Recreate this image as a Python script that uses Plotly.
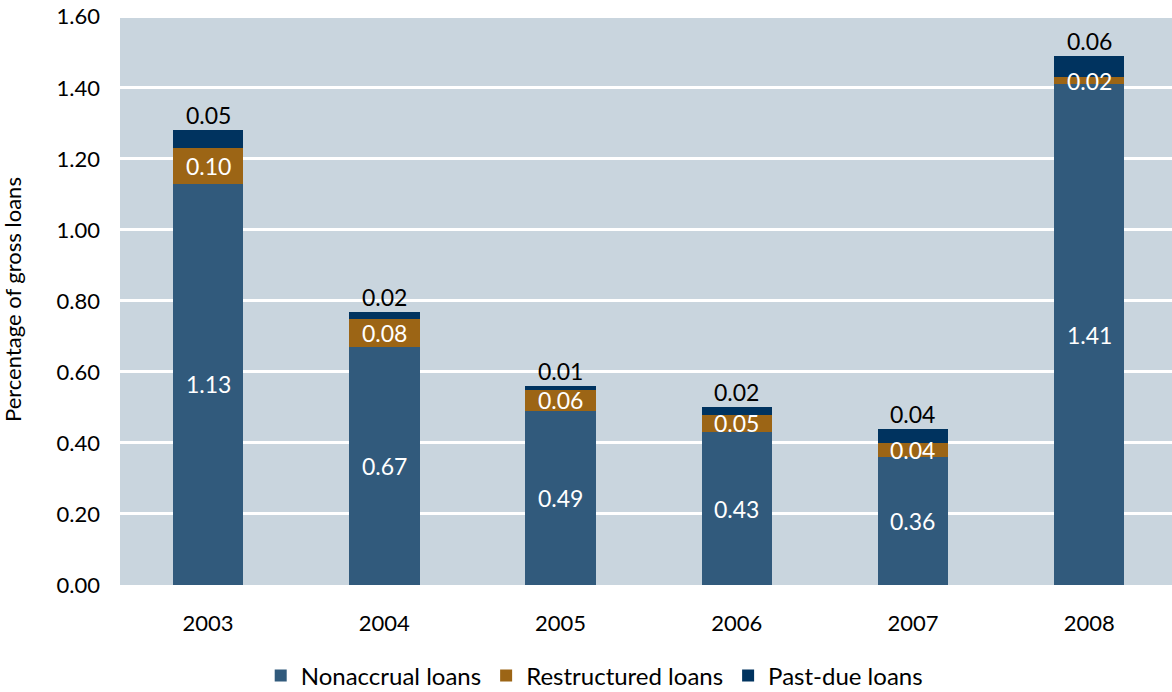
import plotly.graph_objects as go

years = ["2003", "2004", "2005", "2006", "2007", "2008"]
nonaccrual = [1.13, 0.67, 0.49, 0.43, 0.36, 1.41]
restructured = [0.10, 0.08, 0.06, 0.05, 0.04, 0.02]
past_due = [0.05, 0.02, 0.01, 0.02, 0.04, 0.06]
y_ticks = [0.0, 0.2, 0.4, 0.6, 0.8, 1.0, 1.2, 1.4, 1.6]

FONT = "Lato"
C_NON = "#315a7c"
C_RES = "#9c6515"
C_PAST = "#00335f"
BG = "#c9d5de"

fig = go.Figure()
fig.add_trace(go.Bar(x=years, y=nonaccrual, name="Nonaccrual loans",
                     marker=dict(color=C_NON, line=dict(width=0)), width=0.4))
fig.add_trace(go.Bar(x=years, y=restructured, name="Restructured loans",
                     marker=dict(color=C_RES, line=dict(width=0)), width=0.4))
fig.add_trace(go.Bar(x=years, y=past_due, name="Past-due loans",
                     marker=dict(color=C_PAST, line=dict(width=0)), width=0.4))

# value labels: segment centres for the two lower series, above the stack for past-due
annotations = []
for i, (n, r, p) in enumerate(zip(nonaccrual, restructured, past_due)):
    annotations.append(dict(x=i, y=n / 2, xref="x", yref="y", text=f"{n:.2f}",
                            showarrow=False,
                            font=dict(family=FONT, size=23, color="white")))
    annotations.append(dict(x=i, y=n + r / 2, xref="x", yref="y", text=f"{r:.2f}",
                            showarrow=False,
                            font=dict(family=FONT, size=23, color="white")))
    annotations.append(dict(x=i, y=n + r + p, xref="x", yref="y", text=f"{p:.2f}",
                            showarrow=False, yshift=15,
                            font=dict(family=FONT, size=23, color="black")))

# y-axis title
annotations.append(dict(x=0, y=0.5, xref="paper", yref="paper", xshift=-108,
                        text="Percentage of gross loans", textangle=-90,
                        showarrow=False, xanchor="center", yanchor="middle",
                        font=dict(family=FONT, size=22, color="black")))

fig.update_layout(
    barmode="stack",
    width=1172, height=692,
    margin=dict(l=120, r=0, t=15, b=107, autoexpand=False),
    paper_bgcolor="white",
    plot_bgcolor=BG,
    font=dict(family=FONT, size=22, color="black"),
    showlegend=True,
    legend=dict(orientation="h", xref="container", yref="container",
                x=0.507, xanchor="center", y=16 / 692, yanchor="middle",
                bgcolor="rgba(0,0,0,0)",
                font=dict(family=FONT, size=24), itemwidth=30,
                traceorder="normal"),
    annotations=annotations,
)
fig.update_xaxes(type="category", range=[-0.5, 5.47], showgrid=False, ticks="",
                 showline=False, ticklabelstandoff=23,
                 tickfont=dict(family=FONT, size=22))
fig.update_yaxes(range=[0, 1.605], tickvals=y_ticks,
                 ticktext=[f"{v:.2f}" for v in y_ticks],
                 showgrid=True, gridcolor="white", gridwidth=2.5,
                 zeroline=False, showline=False, ticks="", ticklabelstandoff=19,
                 tickfont=dict(family=FONT, size=22))

fig.write_html("out.html")
